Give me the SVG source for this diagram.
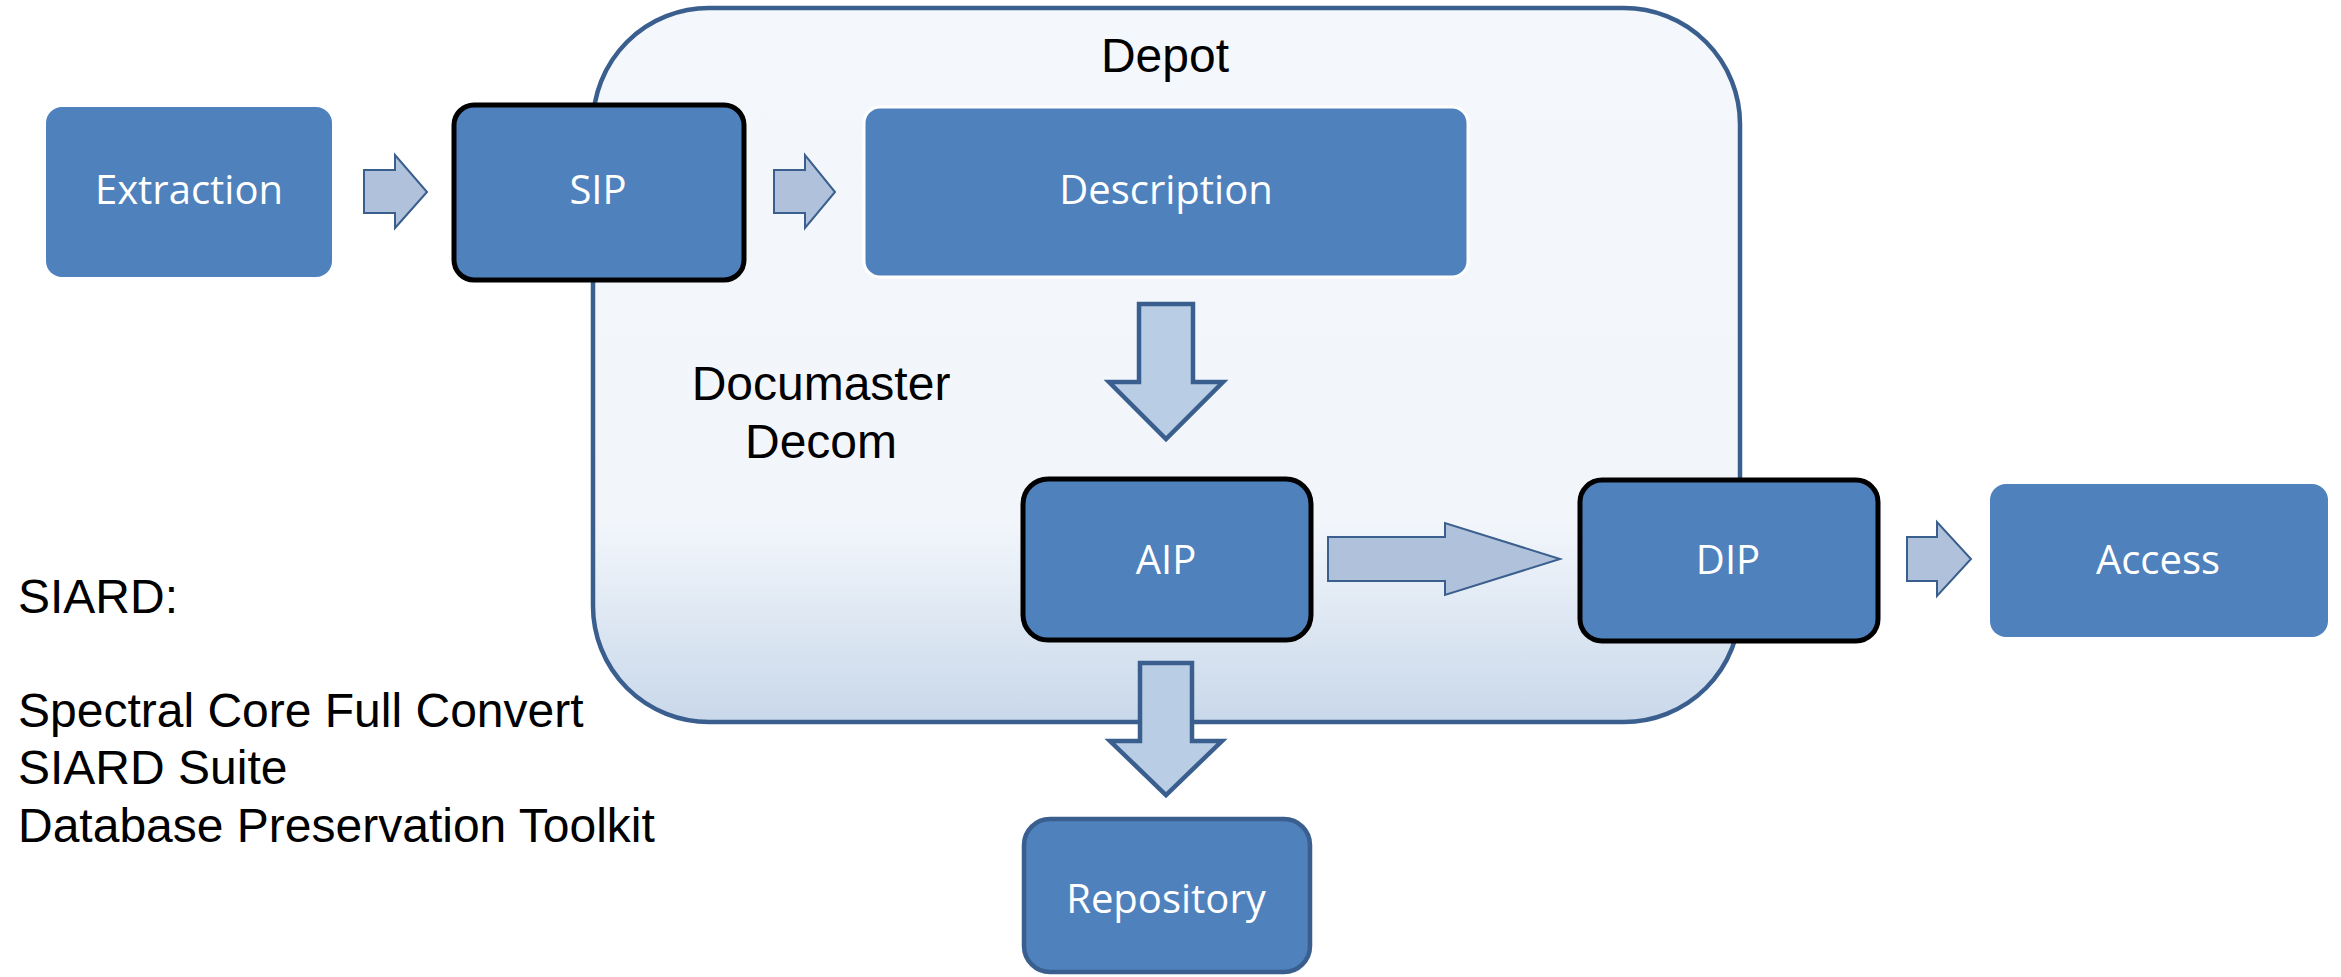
<svg xmlns="http://www.w3.org/2000/svg" width="2341" height="977" viewBox="0 0 2341 977">
<style>
.box{fill:#4F81BD}
.thick{stroke:#000;stroke-width:5}
.lbl{font-family:"Open Sans","Liberation Sans",sans-serif;font-size:40px;fill:#fff;text-anchor:middle}
.txt{font-family:"Liberation Sans",Arial,sans-serif;font-size:48px;fill:#000}
.arr{fill:#B0C1DB;stroke:#3A5F8E;stroke-width:2;stroke-linejoin:miter}
.darr{fill:#B9CDE5;stroke:#3A5F8E;stroke-width:4.5;stroke-linejoin:miter}
</style>
<defs>
<linearGradient id="cg" x1="0" y1="0" x2="0" y2="1">
<stop offset="0" stop-color="#F4F8FC"/>
<stop offset="0.72" stop-color="#F2F6FB"/>
<stop offset="1" stop-color="#C9D8EA"/>
</linearGradient>
</defs>
<rect width="2341" height="977" fill="#fff"/>
<g id="depot">
<rect x="593" y="8" width="1147" height="714" rx="116" ry="116" fill="url(#cg)" stroke="#3A5F8E" stroke-width="4.5"/>
<text class="txt" x="1165" y="72" text-anchor="middle">Depot</text>
</g>
<g id="documaster">
<text class="txt" x="821" y="400" text-anchor="middle">Documaster</text>
<text class="txt" x="821" y="458" text-anchor="middle">Decom</text>
</g>
<g id="siard">
<text class="txt" x="18" y="613">SIARD:</text>
<text class="txt" x="18" y="727">Spectral Core Full Convert</text>
<text class="txt" x="18" y="784">SIARD Suite</text>
<text class="txt" x="18" y="842">Database Preservation Toolkit</text>
</g>
<g id="connectors">
<polygon class="arr" points="364,170 395,170 395,155 427,192 395,228 395,213 364,213"/>
<polygon class="arr" points="774,170 805,170 805,155 835,192 805,228 805,213 774,213"/>
<polygon class="darr" points="1139,304 1193,304 1193,382 1223,382 1166,439 1109,382 1139,382"/>
<polygon class="arr" points="1328,537 1445,537 1445,523 1560,559 1445,595 1445,581 1328,581"/>
<polygon class="arr" points="1907,537 1937,537 1937,522 1971,559 1937,596 1937,581 1907,581"/>
<polygon class="darr" points="1140,663 1192,663 1192,741 1222,741 1166,795 1110,741 1140,741"/>
</g>
<g id="extraction">
<rect class="box" x="46" y="107" width="286" height="170" rx="16"/>
<text class="lbl" x="189" y="204">Extraction</text>
</g>
<g id="sip">
<rect class="box thick" x="454" y="105" width="290" height="175" rx="20"/>
<text class="lbl" x="598" y="204">SIP</text>
</g>
<g id="description">
<rect class="box" x="864" y="107" width="604" height="170" rx="16" stroke="#fff" stroke-width="3"/>
<text class="lbl" x="1166" y="204">Description</text>
</g>
<g id="aip">
<rect class="box thick" x="1023" y="479" width="288" height="161" rx="25"/>
<text class="lbl" x="1166" y="574">AIP</text>
</g>
<g id="dip">
<rect class="box thick" x="1580" y="480" width="298" height="161" rx="22"/>
<text class="lbl" x="1728" y="574">DIP</text>
</g>
<g id="access">
<rect class="box" x="1990" y="484" width="338" height="153" rx="16"/>
<text class="lbl" x="2158" y="574">Access</text>
</g>
<g id="repository">
<rect class="box" x="1024" y="819" width="286" height="153" rx="26" stroke="#3A5F8E" stroke-width="4.5"/>
<text class="lbl" x="1166" y="913">Repository</text>
</g>
</svg>
